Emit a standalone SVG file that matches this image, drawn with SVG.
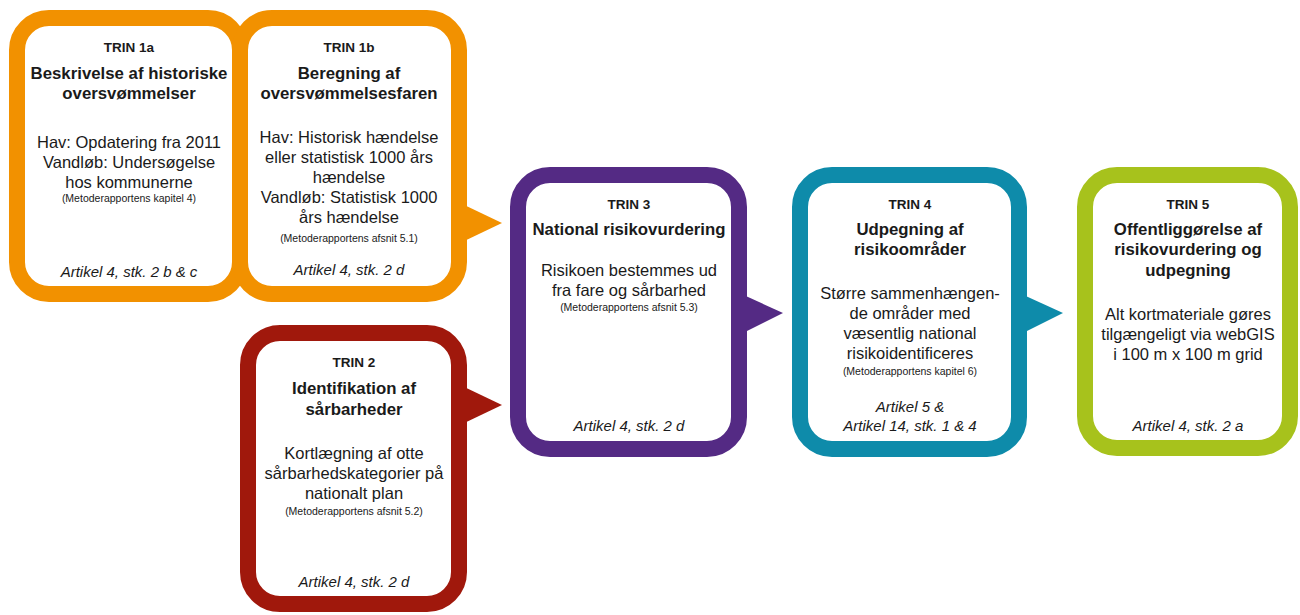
<svg xmlns="http://www.w3.org/2000/svg" width="1300" height="615" viewBox="0 0 1300 615">
<style>
.box{fill:#fff;stroke-width:16}
.o{stroke:#F29100}.r{stroke:#A0180C}.p{stroke:#542A84}.t{stroke:#0E8BAA}.g{stroke:#A7C21C}
.of{fill:#F29100}.rf{fill:#A0180C}.pf{fill:#542A84}.tf{fill:#0E8BAA}.gf{fill:#A7C21C}
text{font-family:"Liberation Sans",Arial,sans-serif;fill:#1a1a1a;text-anchor:middle}
.trin{font-size:13.5px;font-weight:bold}
.title{font-size:16.8px;font-weight:bold}
.body{font-size:16.5px}
.small{font-size:10.5px}
.ital{font-size:15px;font-style:italic}
</style>
<rect x="0" y="0" width="1300" height="615" fill="#fff"/>
<g id="connectors">
<polygon class="of" points="458,202 502,223 458,244"/>
<polygon class="rf" points="458,384 502,405 458,426"/>
<polygon class="pf" points="737,292 783,313 737,336"/>
<polygon class="tf" points="1017,292 1063,313 1017,336"/>
</g>
<g id="trin1a">
<rect class="box o" x="17" y="18" width="223" height="276" rx="32"/>
<text class="trin" x="129" y="52">TRIN 1a</text>
<text class="title" x="129" y="79">Beskrivelse af historiske</text>
<text class="title" x="129" y="99">oversvømmelser</text>
<text class="body" x="129" y="148">Hav: Opdatering fra 2011</text>
<text class="body" x="129" y="168">Vandløb: Undersøgelse</text>
<text class="body" x="129" y="188">hos kommunerne</text>
<text class="small" x="129" y="202">(Metoderapportens kapitel 4)</text>
<text class="ital" x="129" y="277">Artikel 4, stk. 2 b &amp; c</text>
</g>
<g id="trin1b">
<rect class="box o" x="240" y="18" width="219" height="276" rx="32"/>
<text class="trin" x="349" y="52">TRIN 1b</text>
<text class="title" x="349" y="79">Beregning af</text>
<text class="title" x="349" y="99">oversvømmelsesfaren</text>
<text class="body" x="349" y="143">Hav: Historisk hændelse</text>
<text class="body" x="349" y="163">eller statistisk 1000 års</text>
<text class="body" x="349" y="183">hændelse</text>
<text class="body" x="349" y="203">Vandløb: Statistisk 1000</text>
<text class="body" x="349" y="223">års hændelse</text>
<text class="small" x="349" y="242">(Metoderapportens afsnit 5.1)</text>
<text class="ital" x="349" y="275">Artikel 4, stk. 2 d</text>
</g>
<g id="trin2">
<rect class="box r" x="248" y="333" width="211" height="271" rx="32"/>
<text class="trin" x="354" y="367">TRIN 2</text>
<text class="title" x="354" y="394">Identifikation af</text>
<text class="title" x="354" y="415">sårbarheder</text>
<text class="body" x="354" y="459">Kortlægning af otte</text>
<text class="body" x="354" y="479">sårbarhedskategorier på</text>
<text class="body" x="354" y="499">nationalt plan</text>
<text class="small" x="354" y="515">(Metoderapportens afsnit 5.2)</text>
<text class="ital" x="354" y="587">Artikel 4, stk. 2 d</text>
</g>
<g id="trin3">
<rect class="box p" x="518" y="175" width="221" height="274" rx="32"/>
<text class="trin" x="629" y="209">TRIN 3</text>
<text class="title" x="629" y="235">National risikovurdering</text>
<text class="body" x="629" y="276">Risikoen bestemmes ud</text>
<text class="body" x="629" y="296">fra fare og sårbarhed</text>
<text class="small" x="629" y="311">(Metoderapportens afsnit 5.3)</text>
<text class="ital" x="629" y="431">Artikel 4, stk. 2 d</text>
</g>
<g id="trin4">
<rect class="box t" x="800" y="175" width="219" height="274" rx="32"/>
<text class="trin" x="910" y="209">TRIN 4</text>
<text class="title" x="910" y="235">Udpegning af</text>
<text class="title" x="910" y="255">risikoområder</text>
<text class="body" x="910" y="299">Større sammenhængen-</text>
<text class="body" x="910" y="319">de områder med</text>
<text class="body" x="910" y="339">væsentlig national</text>
<text class="body" x="910" y="359">risikoidentificeres</text>
<text class="small" x="910" y="375">(Metoderapportens kapitel 6)</text>
<text class="ital" x="910" y="412">Artikel 5 &amp;</text>
<text class="ital" x="910" y="431">Artikel 14, stk. 1 &amp; 4</text>
</g>
<g id="trin5">
<rect class="box g" x="1085" y="175" width="205" height="273" rx="32"/>
<text class="trin" x="1188" y="209">TRIN 5</text>
<text class="title" x="1188" y="235">Offentliggørelse af</text>
<text class="title" x="1188" y="255">risikovurdering og</text>
<text class="title" x="1188" y="276">udpegning</text>
<text class="body" x="1188" y="320">Alt kortmateriale gøres</text>
<text class="body" x="1188" y="340">tilgængeligt via webGIS</text>
<text class="body" x="1188" y="360">i 100 m x 100 m grid</text>
<text class="ital" x="1188" y="431">Artikel 4, stk. 2 a</text>
</g>
</svg>
